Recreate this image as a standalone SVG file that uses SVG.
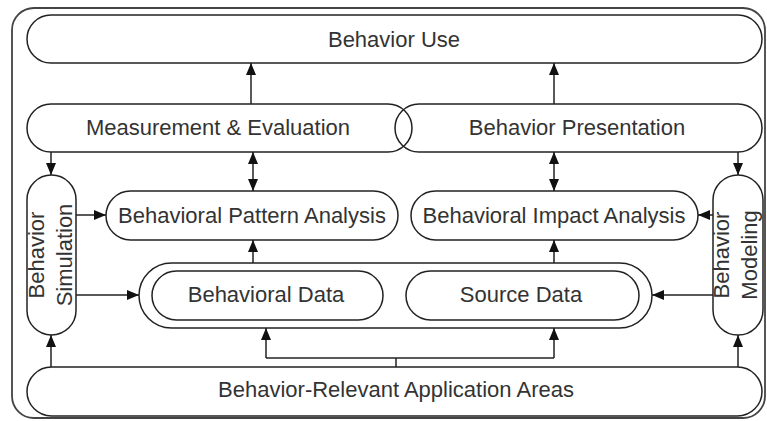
<svg xmlns="http://www.w3.org/2000/svg" width="767" height="421" viewBox="0 0 767 421">
<defs>
<marker id="ah" markerWidth="13" markerHeight="11" refX="12" refY="5" orient="auto-start-reverse" markerUnits="userSpaceOnUse">
<path d="M0,0 L12,5 L0,10 z" fill="#111"/>
</marker>
<style>
.box{fill:#fff;stroke:#222;stroke-width:1.5}
.lbl{font-family:"Liberation Sans",Arial,sans-serif;font-size:22px;fill:#333;text-anchor:middle}
.c{fill:none;stroke:#222;stroke-width:1.5}
</style>
</defs>
<rect width="767" height="421" fill="#fff"/>
<rect x="12" y="8" width="753" height="410" rx="22" fill="none" stroke="#444" stroke-width="1.8"/>
<g id="behavior-use"><rect class="box" x="27" y="15" width="735" height="48" rx="24"/><text class="lbl" x="394" y="47">Behavior Use</text></g>
<g id="measurement"><rect class="box" x="27" y="104" width="385" height="48" rx="24"/><text class="lbl" x="218" y="135">Measurement &amp; Evaluation</text></g>
<g id="presentation"><rect class="box" x="395" y="104" width="367" height="48" rx="24" fill-opacity="0"/><text class="lbl" x="577" y="135">Behavior Presentation</text></g>
<g id="pattern"><rect class="box" x="106" y="191" width="292" height="49" rx="24.5"/><text class="lbl" x="252" y="223">Behavioral Pattern Analysis</text></g>
<g id="impact"><rect class="box" x="411" y="191" width="287" height="49" rx="24.5"/><text class="lbl" x="554" y="223">Behavioral Impact Analysis</text></g>
<g id="simulation"><rect class="box" x="27" y="175" width="49" height="160" rx="24.5"/><text class="lbl" transform="translate(44,255) rotate(-90)">Behavior</text><text class="lbl" transform="translate(72,255) rotate(-90)">Simulation</text></g>
<g id="modeling"><rect class="box" x="713" y="175" width="50" height="160" rx="25"/><text class="lbl" transform="translate(729,255) rotate(-90)">Behavior</text><text class="lbl" transform="translate(757,255) rotate(-90)">Modeling</text></g>
<g id="data"><rect class="box" x="139" y="263" width="513" height="65" rx="32.5"/></g>
<g id="behavioral-data"><rect class="box" x="152" y="271" width="231" height="49" rx="24.5"/><text class="lbl" x="266" y="302">Behavioral Data</text></g>
<g id="source-data"><rect class="box" x="406" y="271" width="233" height="49" rx="24.5"/><text class="lbl" x="521" y="302">Source Data</text></g>
<g id="application-areas"><rect class="box" x="27" y="367" width="735" height="49" rx="24.5"/><text class="lbl" x="396" y="397">Behavior-Relevant Application Areas</text></g>
<g id="connectors">
<path class="c" d="M251,104 V63" marker-end="url(#ah)"/>
<path class="c" d="M554,104 V63" marker-end="url(#ah)"/>
<path class="c" d="M253,152 V191" marker-start="url(#ah)" marker-end="url(#ah)"/>
<path class="c" d="M554,152 V191" marker-start="url(#ah)" marker-end="url(#ah)"/>
<path class="c" d="M51,152 V175" marker-end="url(#ah)"/>
<path class="c" d="M738,152 V175" marker-end="url(#ah)"/>
<path class="c" d="M76,215 H106" marker-end="url(#ah)"/>
<path class="c" d="M713,215 H698" marker-end="url(#ah)"/>
<path class="c" d="M76,295 H139" marker-end="url(#ah)"/>
<path class="c" d="M713,295 H652" marker-end="url(#ah)"/>
<path class="c" d="M253,263 V240" marker-end="url(#ah)"/>
<path class="c" d="M554,263 V240" marker-end="url(#ah)"/>
<path class="c" d="M51,367 V335" marker-end="url(#ah)"/>
<path class="c" d="M738,367 V335" marker-end="url(#ah)"/>
<path class="c" d="M396,367 V358"/>
<path class="c" d="M266,358 V328" marker-end="url(#ah)"/>
<path class="c" d="M554,358 V328" marker-end="url(#ah)"/>
<path class="c" d="M266,358 H554"/>
</g>
</svg>
